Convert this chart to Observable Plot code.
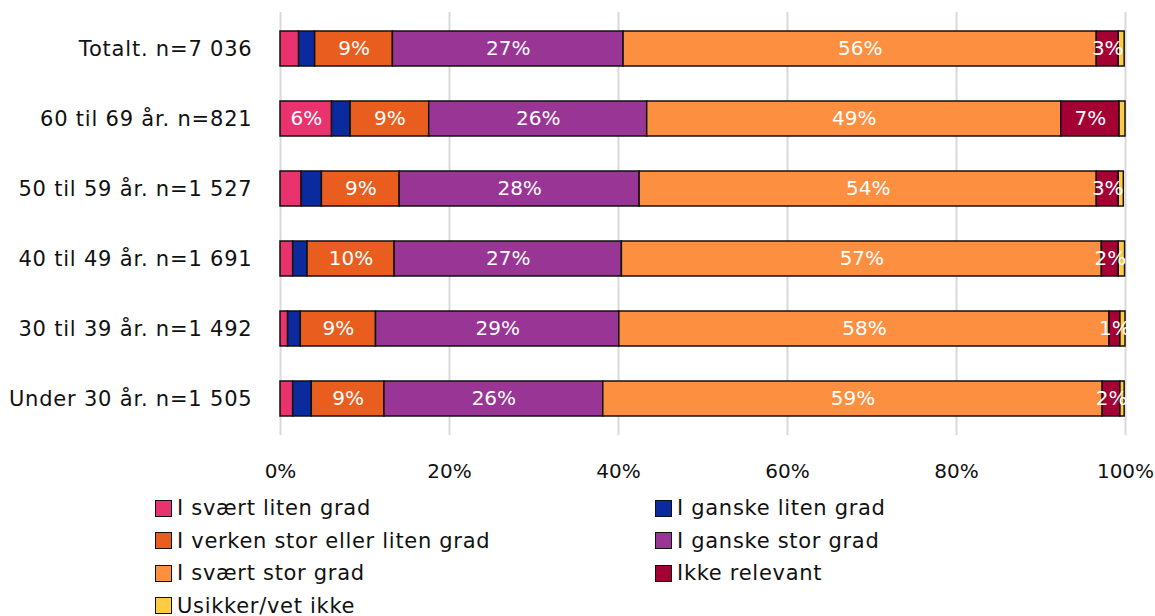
<!DOCTYPE html>
<html>
<head>
<meta charset="utf-8">
<script src="https://cdn.jsdelivr.net/npm/d3@7"></script>
<script src="https://cdn.jsdelivr.net/npm/@observablehq/plot@0.6"></script>
<style>
  html, body { margin: 0; padding: 0; background: #fff; }
  body { width: 1155px; height: 616px; overflow: hidden; font-family: "DejaVu Sans", sans-serif; }
  #legend { position: absolute; left: 155px; top: 494px; display: grid; grid-template-columns: 500px 400px; row-gap: 4px; }
  .item { display: flex; align-items: center; font-size: 21px; letter-spacing: 0.7px; color: #111; height: 28.5px; }
  .sw { width: 15px; height: 15px; border: 1.5px solid #111; margin-right: 5px; flex: none; }
  g[aria-label="y-axis tick label"] text { letter-spacing: 0.8px; }
</style>
</head>
<body>
<div id="chart"></div>
<div id="legend"></div>
<script>
const categories = ["Totalt. n=7 036", "60 til 69 år. n=821", "50 til 59 år. n=1 527", "40 til 49 år. n=1 691", "30 til 39 år. n=1 492", "Under 30 år. n=1 505"];
const seriesNames = ["I svært liten grad", "I ganske liten grad", "I verken stor eller liten grad", "I ganske stor grad", "I svært stor grad", "Ikke relevant", "Usikker/vet ikke"];
const colors = ["#E8336F", "#0A2A9E", "#E95E1F", "#993594", "#FD8F41", "#A50034", "#FFCB45"];
const sSvaertLiten = [2.2, 6.1, 2.5, 1.5, 0.9, 1.5];
const sGanskeLiten = [1.9, 2.2, 2.4, 1.7, 1.5, 2.2];
const sVerken = [9.2, 9.3, 9.2, 10.3, 8.9, 8.6];
const sGanskeStor = [27.3, 25.8, 28.4, 26.9, 28.8, 25.9];
const sSvaertStor = [56.0, 49.0, 54.1, 56.8, 58.0, 59.1];
const sIkkeRelevant = [2.6, 6.9, 2.6, 2.0, 1.3, 2.1];
const sUsikker = [0.7, 0.7, 0.6, 0.75, 0.6, 0.5];
// minimum value for which a segment gets a label, per series
const labelMin = [5, Infinity, 0, 0, 0, 0, Infinity];
const xTicks = [0, 20, 40, 60, 80, 100];

const seriesValues = [sSvaertLiten, sGanskeLiten, sVerken, sGanskeStor, sSvaertStor, sIkkeRelevant, sUsikker];
const data = [];
seriesNames.forEach((s, si) => {
  categories.forEach((c, ci) => {
    data.push({category: c, series: s, value: seriesValues[si][ci], si});
  });
});

const font = "'DejaVu Sans', sans-serif";
const chart = Plot.plot({
  width: 1155,
  height: 492,
  marginLeft: 280,
  marginRight: 30,
  marginTop: 12,
  marginBottom: 57,
  style: {fontFamily: font, fontSize: "20px", color: "#111", background: "#fff"},
  x: {domain: [0, 100], axis: null},
  y: {domain: categories, paddingInner: 0.5, paddingOuter: 0.25, axis: null},
  color: {domain: seriesNames, range: colors},
  marks: [
    Plot.ruleX(xTicks, {stroke: "#d9d9d9", strokeWidth: 2}),
    Plot.barX(data, Plot.stackX({x: "value", y: "category", fill: "series", z: "series", order: seriesNames, stroke: "#111", strokeWidth: 1.5})),
    Plot.text(data, Plot.stackX({
      x: "value", y: "category", z: "series", order: seriesNames,
      text: d => (d.value >= labelMin[d.si] ? Math.round(d.value) + "%" : ""),
      fill: "white", fontSize: 20
    })),
    Plot.axisY({tickSize: 0, tickPadding: 28, fontSize: 21, fill: "#111", label: null}),
    Plot.axisX(xTicks, {tickSize: 0, tickPadding: 28, tickFormat: d => d + "%", fontSize: 20, fill: "#111", label: null})
  ]
});
document.getElementById("chart").appendChild(chart);

const legend = document.getElementById("legend");
seriesNames.forEach((s, i) => {
  const el = document.createElement("div");
  el.className = "item";
  el.innerHTML = `<span class="sw" style="background:${colors[i]}"></span><span>${s}</span>`;
  legend.appendChild(el);
});
</script>
</body>
</html>
